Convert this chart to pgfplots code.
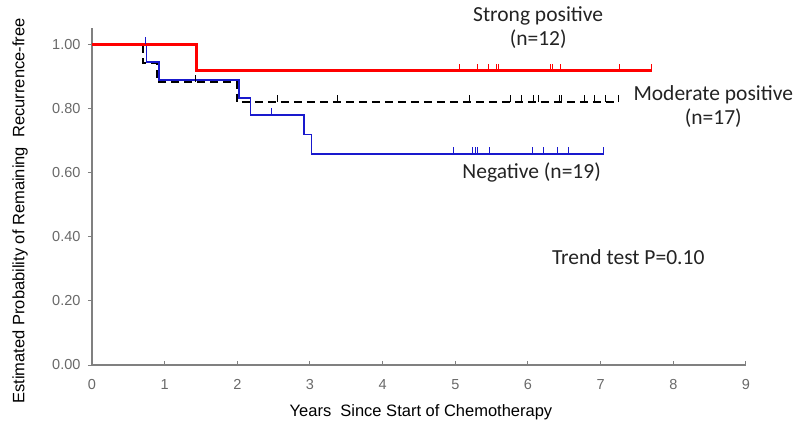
\documentclass[border=0pt]{standalone}
\usepackage{pgfplots}
\pgfplotsset{compat=1.18}
\usepackage{fontspec}
\setmainfont{Liberation Sans}
\newfontfamily\calibri{Carlito}

\definecolor{kmred}{RGB}{255,0,0}
\definecolor{kmblue}{RGB}{25,25,205}
\definecolor{axgray}{RGB}{128,128,128}
\definecolor{tickgray}{RGB}{105,105,105}
\definecolor{annot}{RGB}{35,35,35}

% censoring mark: short vertical stroke pointing up
\pgfdeclareplotmark{cens}{%
  \pgfpathmoveto{\pgfpointorigin}%
  \pgfpathlineto{\pgfpoint{0pt}{\pgfplotmarksize}}%
  \pgfusepathqstroke}

\begin{document}
\begin{tikzpicture}
\begin{axis}[
  scale only axis, width=654pt, height=337pt,
  xmin=0, xmax=9, ymin=0, ymax=1.05,
  axis lines*=left, axis line style={axgray, line width=1.2pt, -},
  xtick={0,1,...,9}, ytick={0,0.2,0.4,0.6,0.8,1.0},
  major tick length=4pt,
  x tick style={axgray, line width=1pt}, y tick style={axgray, line width=1pt},
  xtick align=inside, ytick align=outside,
  /pgf/number format/assume math mode=true,
  tick label style={tickgray, font=\fontsize{14.5}{16}\selectfont},
  yticklabel style={/pgf/number format/fixed, /pgf/number format/fixed zerofill, /pgf/number format/precision=2, xshift=-4pt},
  xticklabel style={yshift=-11pt},
  xlabel={Years\ \ Since Start of Chemotherapy},
  ylabel={Estimated Probability of Remaining\ \ Recurrence-free},
  label style={font=\fontsize{16.5}{18}\selectfont},
  xlabel style={at={(axis description cs:0.503,-0.139)}, anchor=center},
  ylabel style={at={(axis description cs:-0.11,0.457)}, anchor=center},
  clip=false,
]
\coordinate (O) at (axis cs:0,0);

% Moderate positive (n=17)
\addplot[const plot, black, line width=1.8pt, dash pattern=on 8pt off 5pt] coordinates {
  (0,1.0) (0.70,0.941) (0.89,0.882) (2.00,0.819) (7.25,0.819)
};
\addplot[only marks, mark=cens, mark size=7pt, mark options={black, line width=0.9pt, solid}] coordinates {
  (1.42,0.882) (2.55,0.819) (3.38,0.819) (5.19,0.819) (5.76,0.819) (5.91,0.819)
  (6.07,0.819) (6.15,0.819) (6.43,0.819) (6.46,0.819) (6.78,0.819) (6.92,0.819)
  (7.07,0.819) (7.25,0.819)
};

% Negative (n=19)
\addplot[const plot, kmblue, line width=1.8pt] coordinates {
  (0,1.0) (0.75,0.944) (0.92,0.889) (2.02,0.833) (2.18,0.778) (2.92,0.718) (3.02,0.658) (7.04,0.658)
};
\addplot[only marks, mark=cens, mark size=7pt, mark options={kmblue, line width=0.9pt}] coordinates {
  (0.74,1.0) (2.47,0.778) (4.97,0.658) (5.23,0.658) (5.28,0.658) (5.30,0.658)
  (5.47,0.658) (6.06,0.658) (6.21,0.658) (6.41,0.658) (6.56,0.658) (7.04,0.658)
};

% Strong positive (n=12)
\addplot[const plot, kmred, line width=3pt] coordinates {
  (0,1.0) (1.44,0.917) (7.70,0.917)
};
\addplot[only marks, mark=cens, mark size=7pt, mark options={kmred, line width=0.9pt}] coordinates {
  (5.05,0.917) (5.30,0.917) (5.45,0.917) (5.56,0.917) (5.60,0.917) (6.31,0.917)
  (6.34,0.917) (6.44,0.917) (7.26,0.917) (7.70,0.917)
};

\node[annot, font=\calibri\fontsize{21.5}{24}\selectfont, align=center] at (axis cs:6.14,1.052)
  {Strong positive\\(n=12)};
\node[annot, font=\calibri\fontsize{21.5}{24}\selectfont, align=center] at (axis cs:8.55,0.806)
  {Moderate positive\\(n=17)};
\node[annot, font=\calibri\fontsize{21.5}{24}\selectfont] at (axis cs:6.05,0.601)
  {Negative (n=19)};
\node[annot, font=\calibri\fontsize{21.5}{24}\selectfont] at (axis cs:7.38,0.336)
  {Trend test P=0.10};
\end{axis}
\pgfresetboundingbox
\path (O) ++(-92pt,-72pt) rectangle ++(800pt,437pt);
\end{tikzpicture}
\end{document}
